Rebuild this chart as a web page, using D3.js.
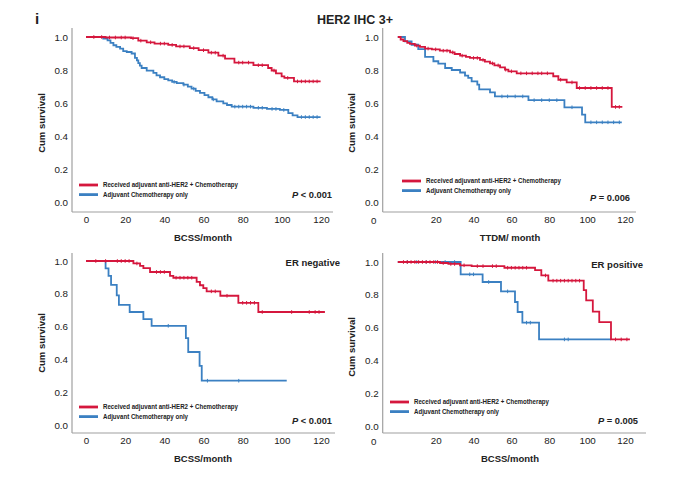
<!DOCTYPE html>
<html><head><meta charset="utf-8">
<script src="https://cdn.jsdelivr.net/npm/d3@7"></script>
<style>
body{margin:0;background:#fff}
svg{display:block}
text{font-family:"Liberation Sans",Arial,Helvetica,sans-serif;fill:#222}
</style>
</head><body>
<svg id="c" width="700" height="484"></svg>
<script>
// ---------- data ----------
const figLetter = "i";
const figTitle = "HER2 IHC 3+";
const seriesNames = ["Received adjuvant anti-HER2 + Chemotherapy", "Adjuvant Chemotherapy only"];
const panelTags = ["", "", "ER negative", "ER positive"];
const pValues = ["< 0.001", "= 0.006", "< 0.001", "= 0.005"];
const xTitles = ["BCSS/month", "TTDM/ month", "BCSS/month", "BCSS/month"];
const yTitle = "Cum survival";
const yTicks = [0, 0.2, 0.4, 0.6, 0.8, 1.0];
const xTicksFull = [0, 20, 40, 60, 80, 100, 120];
const xTicksNoZero = [20, 40, 60, 80, 100, 120];

// Panel 1: BCSS, all HER2 3+
const p1Red = [[0,1],[10,0.997],[23,0.993],[26.7,0.978],[31,0.968],[35,0.96],[42,0.952],[46,0.943],[53,0.933],[57.5,0.92],[62.5,0.905],[67.6,0.887],[71,0.869],[75.8,0.845],[85.5,0.829],[93,0.812],[94.8,0.797],[97,0.779],[99.9,0.761],[101.3,0.752],[106.2,0.731]];
const p1RedEnd = 119.8;
const p1RedCens = [4,8,12,15,18,20,24,28,33,38,40,44,48,50,55,60,64,66,70,78,80,83,88,90,96,103,108,110,112,114,116,118];
const p1Blue = [[0,1],[8.8,0.99],[11,0.98],[12.5,0.964],[14,0.95],[15.5,0.94],[17.4,0.93],[19,0.915],[20.8,0.909],[23.3,0.9],[25,0.873],[26,0.858],[26.7,0.842],[27.5,0.826],[28.4,0.812],[31,0.796],[34.4,0.782],[36,0.768],[37.8,0.756],[40,0.745],[42,0.737],[44,0.728],[46.3,0.721],[49.7,0.711],[52,0.699],[53.9,0.687],[56,0.674],[58.2,0.661],[60.5,0.648],[62.5,0.635],[64.5,0.622],[66.7,0.61],[70.1,0.598],[72,0.588],[74.4,0.578],[85.5,0.571],[92.4,0.564],[99,0.558],[103.3,0.539],[105.5,0.525],[108,0.515]];
const p1BlueEnd = 119.8;
const p1BlueCens = [45,50,55,65,76,78,80,82,84,88,90,95,97,101,110,112,114,116,118];

// Panel 2: TTDM, all HER2 3+
const p2Red = [[0,1],[1.5,0.985],[3,0.975],[5,0.965],[6.4,0.958],[9,0.948],[11.7,0.94],[14.4,0.93],[18,0.925],[22.2,0.917],[27.6,0.907],[30,0.897],[32.9,0.887],[36,0.88],[38.1,0.873],[43.4,0.861],[46,0.851],[48.7,0.84],[51,0.828],[54,0.816],[56.6,0.802],[58.4,0.792],[62.8,0.78],[82.1,0.762],[84.8,0.741],[89.2,0.725],[94.5,0.691],[113,0.576]];
const p2RedEnd = 118.6;
const p2RedCens = [10,16,20,24,26,29,34,40,42,45,50,53,57,60,65,68,71,74,76,79,86,92,96,99,102,105,108,111,115,117];
const p2Blue = [[0,1],[3.8,0.974],[7.3,0.953],[10.8,0.927],[14.4,0.879],[18.8,0.853],[21.4,0.839],[25,0.812],[28.5,0.8],[32.9,0.785],[35.5,0.766],[37.2,0.752],[39,0.731],[42,0.711],[43,0.683],[48.7,0.665],[51.3,0.64],[69,0.617],[88,0.574],[97.3,0.53],[99,0.483]];
const p2BlueEnd = 118.3;
const p2BlueCens = [55,58,62,66,72,76,80,84,92,102,105,108,111,114,117];

// Panel 3: BCSS, ER negative
const p3Red = [[0,1],[24.2,0.985],[27.6,0.97],[29.3,0.957],[32.7,0.933],[42.9,0.909],[44.6,0.898],[56.5,0.873],[58.2,0.852],[59.9,0.835],[61.6,0.815],[68.6,0.788],[77.8,0.745],[88,0.689]];
const p3RedEnd = 122;
const p3RedCens = [5,10,16,18,20,22,26,36,38,40,46,48,50,52,54,64,66,72,80,82,84,86,90,105,114,117,119];
const p3Blue = [[0,1],[10,0.955],[11.5,0.909],[12.8,0.855],[15.7,0.79],[16.8,0.732],[22.3,0.689],[29.3,0.645],[33.5,0.605],[51,0.53],[52.2,0.445],[58,0.36],[59.1,0.27]];
const p3BlueEnd = 102.5;
const p3BlueCens = [42,62,78];

// Panel 4: BCSS, ER positive
const p4Red = [[0,1],[22.3,0.994],[26.7,0.988],[32.9,0.98],[39,0.975],[56.3,0.965],[72.5,0.95],[75.8,0.918],[79.5,0.886],[98.2,0.828],[99.5,0.766],[103,0.698],[106.4,0.633],[112.6,0.528]];
const p4RedEnd = 122.6;
const p4RedCens = [3,5,7,9,11,13,15,17,19,21,24,28,30,35,42,45,50,52,58,60,62,64,66,68,78,82,84,86,88,90,92,94,96,115,118,121];
const p4Blue = [[0,1],[33.2,0.925],[44.8,0.878],[54.5,0.821],[61.9,0.756],[63.3,0.695],[65.8,0.63],[74.6,0.528]];
const p4BlueEnd = 112.6;
const p4BlueCens = [5,10,15,20,25,30,38,40,48,58,68,70,88,90];

// ---------- styles / layout ----------
const RED = "#d5173d", BLUE = "#3b80c2", AXIS = "#a0a0a0";
const panels = [
  {red:p1Red, redEnd:p1RedEnd, redC:p1RedCens, blue:p1Blue, blueEnd:p1BlueEnd, blueC:p1BlueCens,
   xr:[86,321], yr:[202,37], axX:72, axTop:28, axBot:212, axRight:333, xTicks:xTicksFull, zeroLbl:false,
   xTitleX:203, xTitleY:241, yTitleX:45, yTitleY:123, legX:79, legY:185, pX:332, pY:198, tag:0},
  {red:p2Red, redEnd:p2RedEnd, redC:p2RedCens, blue:p2Blue, blueEnd:p2BlueEnd, blueC:p2BlueCens,
   xr:[397.8,625], yr:[202,37], axX:382.7, axTop:28, axBot:212, axRight:636, xTicks:xTicksNoZero, zeroLbl:true,
   xTitleX:510, xTitleY:241, yTitleX:355, yTitleY:123, legX:402, legY:181, pX:630, pY:201, tag:1},
  {red:p3Red, redEnd:p3RedEnd, redC:p3RedCens, blue:p3Blue, blueEnd:p3BlueEnd, blueC:p3BlueCens,
   xr:[86,321], yr:[425,261], axX:72, axTop:253, axBot:433, axRight:335, xTicks:xTicksFull, zeroLbl:false,
   xTitleX:203, xTitleY:462, yTitleX:45, yTitleY:343, legX:79, legY:407, pX:332, pY:424, tag:2, tagX:340, tagY:266},
  {red:p4Red, redEnd:p4RedEnd, redC:p4RedCens, blue:p4Blue, blueEnd:p4BlueEnd, blueC:p4BlueCens,
   xr:[397.8,625], yr:[426,262], axX:382.7, axTop:253, axBot:433, axRight:646, xTicks:xTicksNoZero, zeroLbl:true,
   xTitleX:510, xTitleY:462, yTitleX:355, yTitleY:347, legX:390, legY:402, pX:638, pY:424, tag:3, tagX:643, tagY:268}
];

const svg = d3.select("#c");
svg.append("rect").attr("width",700).attr("height",484).attr("fill","#fff");

svg.append("text").attr("x",35).attr("y",24).attr("font-size",15).attr("font-weight","bold").text(figLetter);
svg.append("text").attr("x",355).attr("y",24).attr("text-anchor","middle").attr("font-size",12.5).attr("font-weight","bold").text(figTitle);

function survAt(steps, t){
  let s = steps[0][1];
  for (const d of steps){ if (d[0] <= t) s = d[1]; else break; }
  return s;
}

panels.forEach((p, i) => {
  const g = svg.append("g");
  const x = d3.scaleLinear().domain([0,120]).range(p.xr);
  const y = d3.scaleLinear().domain([0,1]).range(p.yr);

  // axis lines
  g.append("line").attr("x1",p.axX).attr("x2",p.axX).attr("y1",p.axTop).attr("y2",p.axBot)
    .attr("stroke",AXIS).attr("stroke-width",1.2);
  g.append("line").attr("x1",p.axX).attr("x2",p.axRight).attr("y1",p.axBot).attr("y2",p.axBot)
    .attr("stroke",AXIS).attr("stroke-width",1.2);

  // y tick labels
  const ya = g.append("g").attr("transform",`translate(${p.axX},0)`)
    .call(d3.axisLeft(y).tickValues(yTicks).tickSize(0).tickPadding(4).tickFormat(d3.format(".1f")));
  ya.select(".domain").remove();
  ya.selectAll("text").attr("font-size",9.8).attr("fill","#333").style("font-family",'"Liberation Sans",Arial,sans-serif');

  // x tick labels
  const xa = g.append("g").attr("transform",`translate(0,${p.axBot})`)
    .call(d3.axisBottom(x).tickValues(p.xTicks).tickSize(0).tickPadding(4.5).tickFormat(d3.format("d")));
  xa.select(".domain").remove();
  xa.selectAll("text").attr("font-size",9.8).attr("fill","#333").style("font-family",'"Liberation Sans",Arial,sans-serif');
  if (p.zeroLbl){
    g.append("text").attr("x",p.axX-9).attr("y",p.axBot+12.3).attr("text-anchor","middle")
      .attr("font-size",9.8).attr("fill","#333").text("0");
  }

  // titles
  g.append("text").attr("x",p.xTitleX).attr("y",p.xTitleY).attr("text-anchor","middle")
    .attr("font-size",9.5).attr("font-weight","bold").text(xTitles[i]);
  g.append("text").attr("transform",`translate(${p.yTitleX},${p.yTitleY}) rotate(-90)`).attr("text-anchor","middle")
    .attr("font-size",9.5).attr("font-weight","bold").text(yTitle);

  // curves
  const line = d3.line().x(d=>x(d[0])).y(d=>y(d[1])).curve(d3.curveStepAfter);
  [[p.blue,p.blueEnd,p.blueC,BLUE],[p.red,p.redEnd,p.redC,RED]].forEach(([steps,end,cens,col])=>{
    const pts = steps.concat([[end, steps[steps.length-1][1]]]);
    g.append("path").attr("d",line(pts)).attr("fill","none").attr("stroke",col).attr("stroke-width",1.8);
    g.selectAll(null).data(cens.filter(t=>t<=end)).enter().append("line")
      .attr("x1",t=>x(t)).attr("x2",t=>x(t))
      .attr("y1",t=>y(survAt(steps,t))-1.8).attr("y2",t=>y(survAt(steps,t))+1.8)
      .attr("stroke",col).attr("stroke-width",1);
  });

  // legend
  const lens = [135, 85];
  [RED, BLUE].forEach((col,k)=>{
    const ly = p.legY + k*9.6;
    g.append("line").attr("x1",p.legX).attr("x2",p.legX+19).attr("y1",ly).attr("y2",ly)
      .attr("stroke",col).attr("stroke-width",2.8);
    g.append("text").attr("x",p.legX+24).attr("y",ly+2.3).attr("font-size",6.6)
      .attr("font-weight","bold").attr("fill","#333")
      .attr("textLength",lens[k]).attr("lengthAdjust","spacingAndGlyphs").text(seriesNames[k]);
  });

  // p value
  const pt = g.append("text").attr("x",p.pX).attr("y",p.pY).attr("text-anchor","end")
    .attr("font-size",9.3).attr("font-weight","bold");
  pt.append("tspan").attr("font-style","italic").text("P");
  pt.append("tspan").text(" " + pValues[i]);

  // tag
  if (panelTags[p.tag]){
    g.append("text").attr("x",p.tagX).attr("y",p.tagY).attr("text-anchor","end")
      .attr("font-size",9.5).attr("font-weight","bold").text(panelTags[p.tag]);
  }
});
</script>
</body></html>
